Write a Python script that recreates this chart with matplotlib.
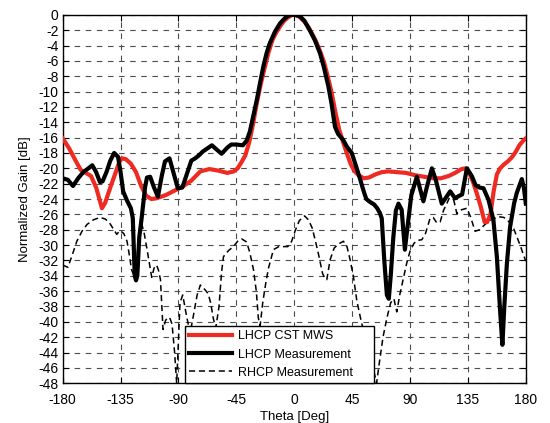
import matplotlib
matplotlib.use("Agg")
import matplotlib.pyplot as plt

plt.rcParams['font.family'] = ['Liberation Sans', 'DejaVu Sans']
plt.rcParams['axes.unicode_minus'] = False

# LHCP simulated pattern (CST MWS)
theta_sim = [-180, -175, -170, -166, -162, -158, -154, -151, -149.5, -147, -143, -139, -136, -134,
             -131, -127, -123, -119, -115, -111, -107, -100, -93, -87, -80, -73, -66, -59, -52,
             -47, -44, -41, -38, -35, -32, -29, -26, -23, -20, -17, -14, -11, -8, -5, -2, 0, 2,
             5, 8, 11, 14, 17, 20, 23, 26, 29, 32, 35, 38, 41, 44, 47, 50, 54, 58, 63, 68, 73,
             80, 87, 94, 101, 108, 114, 120, 125, 130, 133, 136, 139, 142, 145, 148, 150, 152.5,
             155, 157.5, 160, 163, 166, 169, 172, 175, 178, 180]
gain_sim = [-16.1, -17.4, -19.0, -20.2, -20.6, -21.0, -22.5, -24.3, -25.2, -24.5, -22.5, -20.6,
            -19.2, -18.7, -18.8, -19.4, -20.5, -22.3, -23.6, -24.0, -23.9, -23.5, -22.9, -22.4,
            -21.6, -20.4, -20.1, -20.3, -20.6, -20.4, -20.0, -19.2, -18.3, -16.6, -14.2, -11.4,
            -9.0, -6.9, -4.9, -3.3, -2.3, -1.5, -0.8, -0.35, -0.05, 0.0, -0.05, -0.4, -0.9,
            -1.6, -2.5, -3.5, -4.7, -6.1, -8.0, -10.1, -12.7, -15.0, -16.6, -18.1, -19.5, -20.4,
            -20.9, -21.3, -21.2, -20.8, -20.5, -20.4, -20.5, -20.6, -20.9, -21.1, -21.3, -21.3,
            -21.0, -20.6, -20.1, -20.0, -20.6, -21.8, -23.3, -25.0, -27.0, -27.0, -26.0, -23.0,
            -20.8, -20.0, -19.5, -19.1, -18.6, -17.9, -17.0, -16.4, -16.1]

# LHCP measured pattern
theta_lhcp = [-180, -176, -172, -168, -164, -160, -157, -154, -151, -149, -146, -143, -140, -137,
              -135, -133, -130, -127, -125.5, -124, -123, -122, -120.5, -118.5, -116, -114.5,
              -112, -109, -106, -103, -100.5, -97, -94, -90.5, -87, -84, -80, -77, -74, -71,
              -67.5, -64, -60, -56.5, -52, -49, -45, -40, -37, -34.5, -32, -29, -26.5, -24,
              -21.5, -19, -15, -11, -7, -3.3, 0, 4.5, 8, 12, 16, 20, 23, 26.5, 29, 31.7, 34,
              38, 41, 44.7, 48, 51, 54, 56, 59, 62, 64.5, 66.5, 68, 70, 72, 73.5, 75, 77, 79,
              81, 83.5, 86, 88.5, 91, 95.3, 100.4, 103, 107, 110, 114.7, 118, 121.2, 125, 128,
              130.5, 134.2, 138, 141, 144, 147.1, 151, 154.8, 157.5, 160, 161.8, 163.3, 165.3,
              167.8, 171, 173, 176.9, 178.5, 180]
gain_lhcp = [-21.3, -21.5, -22.3, -21.3, -20.5, -20.0, -19.6, -20.5, -21.8, -21.7, -20.5, -19.0,
             -18.0, -18.5, -20.5, -23.0, -24.2, -25.2, -26.5, -34.0, -34.6, -34.0, -29.0, -26.3,
             -22.5, -21.2, -21.1, -22.5, -23.7, -21.0, -19.1, -18.7, -20.5, -22.6, -22.5, -21.0,
             -19.0, -18.7, -18.3, -17.8, -17.4, -17.0, -17.6, -18.1, -17.3, -16.9, -16.9, -17.0,
             -16.4, -15.2, -13.3, -11.0, -8.8, -6.7, -5.0, -3.7, -2.2, -1.1, -0.4, 0.0, 0.0,
             -0.2, -0.8, -2.0, -3.3, -5.0, -6.8, -9.3, -11.6, -14.6, -15.5, -16.3, -17.2, -18.0,
             -19.7, -21.3, -23.0, -24.0, -24.4, -24.7, -25.2, -25.8, -26.5, -32.0, -36.5, -37.0,
             -34.0, -29.0, -25.5, -24.6, -25.4, -30.6, -27.0, -23.5, -21.1, -24.3, -22.5, -20.0,
             -21.5, -24.6, -23.8, -23.0, -23.9, -23.6, -23.4, -20.0, -21.0, -22.2, -22.5, -22.6,
             -24.1, -26.7, -31.5, -38.5, -43.0, -38.0, -32.4, -27.6, -24.5, -23.2, -21.4, -22.5,
             -24.6]

# RHCP measured pattern
theta_rhcp = [-180, -176, -173, -169, -165, -161, -156, -151, -147, -144, -141, -138, -135.4,
              -132.5, -130, -128, -126.5, -124.5, -122.5, -120.5, -118.6, -116.5, -114.5, -112,
              -110.8, -109, -107, -105.5, -104, -102, -100, -98, -96.5, -95, -93, -91.4, -90,
              -88.8, -86.7, -84, -81, -78.4, -75.5, -73, -70, -67, -65, -63, -61, -58.5, -56.5,
              -55, -51, -47.3, -44, -40.8, -37, -34.5, -31.7, -29.5, -27.9, -26.5, -24.5, -22,
              -20, -16.2, -12, -8, -5, -2, 1, 4, 8, 11, 14, 16.5, 19, 22, 24, 25.3, 27.9, 31, 34,
              38.2, 41, 43.4, 46, 48.6, 51.5, 55, 59, 62, 64, 66, 69, 72, 75, 77.5, 79.7, 82,
              84.9, 87.5, 90, 93, 95.3, 99.2, 102, 105.6, 108, 110.8, 113.4, 116, 118.6, 122.5,
              124.5, 126.4, 130, 134.2, 137, 140.6, 144, 148.4, 153, 158.7, 163, 166.5, 170, 173,
              176, 178, 180]
gain_rhcp = [-32.6, -32.9, -31.5, -29.5, -28.2, -27.3, -26.7, -26.4, -26.6, -27.0, -27.8, -28.6,
             -28.1, -28.5, -29.5, -31.5, -33.2, -34.0, -32.0, -28.5, -27.2, -28.6, -30.5, -33.0,
             -34.2, -33.0, -32.6, -33.3, -34.5, -41.0, -39.8, -39.4, -39.6, -40.3, -44.0, -48.0,
             -42.5, -37.5, -36.5, -39.0, -41.5, -39.2, -36.5, -35.2, -35.7, -36.3, -37.5, -39.5,
             -40.8, -38.0, -33.5, -31.5, -30.7, -30.2, -29.5, -29.2, -29.6, -31.0, -33.2, -36.0,
             -39.5, -40.5, -37.5, -34.8, -33.0, -30.6, -30.2, -30.2, -30.2, -29.5, -28.0, -26.8,
             -26.2, -26.7, -27.8, -29.5, -31.3, -33.7, -34.4, -34.5, -31.9, -30.4, -29.9, -29.5,
             -30.2, -31.9, -34.1, -37.2, -39.5, -42.0, -44.5, -46.5, -48.0, -45.5, -42.0, -39.5,
             -37.5, -37.0, -38.7, -36.5, -34.3, -32.3, -30.8, -29.8, -29.4, -29.3, -28.5, -26.5,
             -26.4, -27.1, -27.0, -25.5, -24.6, -23.1, -24.5, -25.9, -25.4, -25.2, -26.3, -28.2,
             -28.0, -27.3, -26.7, -26.3, -26.4, -26.9, -27.6, -28.9, -30.2, -31.2, -32.1]

series_labels = ['LHCP CST MWS', 'LHCP Measurement', 'RHCP Measurement']
x_ticks = [-180, -135, -90, -45, 0, 45, 90, 135, 180]
y_ticks = list(range(0, -49, -2))

fig = plt.figure(figsize=(5.5, 4.23), dpi=100)
ax = fig.add_axes([0.114, 0.094, 0.842, 0.871])

ax.plot(theta_sim, gain_sim, color='#ee2a22', lw=3.0, label=series_labels[0], zorder=3)
ax.plot(theta_lhcp, gain_lhcp, color='black', lw=3.0, label=series_labels[1], zorder=4)
ax.plot(theta_rhcp, gain_rhcp, color='black', lw=1.1, ls=(0, (4, 2.5)),
        label=series_labels[2], zorder=2)

ax.set_xlim(-180, 180)
ax.set_ylim(-48, 0)
ax.set_xticks(x_ticks)
ax.set_yticks(y_ticks)
ax.tick_params(direction='in', length=4, width=0.8, top=True, right=True,
               labelsize=10)
ax.tick_params(axis='x', pad=7)
ax.tick_params(axis='y', pad=3)
ax.grid(True, color='0.3', ls=(0, (5, 5)), lw=0.8)
for s in ax.spines.values():
    s.set_linewidth(1.0)

ax.set_xlabel('Theta [Deg]', fontsize=9.5, labelpad=3)
ax.set_ylabel('Normalized Gain [dB]', fontsize=9.5, labelpad=5)

leg = ax.legend(loc='lower left', bbox_to_anchor=(0.264, 0.0, 0.408, 0.172),
                mode='expand', borderaxespad=0, fontsize=9, fancybox=False,
                framealpha=1, edgecolor='black', handlelength=3.4,
                borderpad=0.35, labelspacing=0.5, handletextpad=0.5)
leg.get_frame().set_linewidth(1.0)
leg.set_zorder(10)

fig.savefig('out.png', dpi=100)
